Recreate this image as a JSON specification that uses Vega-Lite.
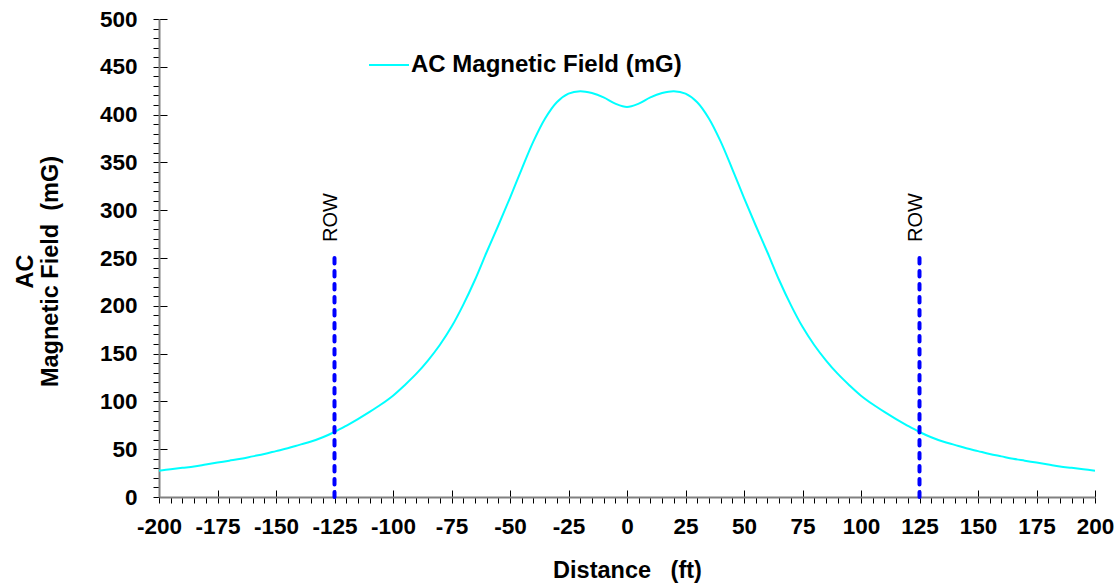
{
  "$schema": "https://vega.github.io/schema/vega-lite/v6.json",
  "width": 936,
  "height": 478,
  "autosize": {"type": "none"},
  "padding": {"left": 159, "top": 19, "right": 22, "bottom": 86},
  "background": "white",
  "config": {"view": {"stroke": null}, "font": "Liberation Sans"},
  "datasets": {
    "field": [
      {"x": -200, "y": 27.5}, {"x": -195, "y": 29}, {"x": -190, "y": 30.5}, {"x": -185, "y": 32},
      {"x": -180, "y": 34}, {"x": -175, "y": 36}, {"x": -170, "y": 38}, {"x": -165, "y": 40},
      {"x": -160, "y": 42.5}, {"x": -155, "y": 45}, {"x": -150, "y": 48}, {"x": -145, "y": 51},
      {"x": -140, "y": 54.5}, {"x": -135, "y": 58}, {"x": -130, "y": 62.5}, {"x": -125, "y": 68},
      {"x": -120, "y": 74.5}, {"x": -115, "y": 81.5}, {"x": -110, "y": 89}, {"x": -105, "y": 97},
      {"x": -100, "y": 106}, {"x": -95, "y": 117}, {"x": -90, "y": 129}, {"x": -85, "y": 143},
      {"x": -80, "y": 159}, {"x": -75, "y": 178}, {"x": -70, "y": 201}, {"x": -65, "y": 227},
      {"x": -60, "y": 256}, {"x": -55, "y": 284}, {"x": -50, "y": 313}, {"x": -45, "y": 343},
      {"x": -40, "y": 372}, {"x": -35, "y": 396}, {"x": -30, "y": 413}, {"x": -25, "y": 422},
      {"x": -20, "y": 424.5}, {"x": -15, "y": 422.5}, {"x": -10, "y": 418}, {"x": -5, "y": 411.5},
      {"x": 0, "y": 408},
      {"x": 5, "y": 411.5}, {"x": 10, "y": 418}, {"x": 15, "y": 422.5}, {"x": 20, "y": 424.5},
      {"x": 25, "y": 422}, {"x": 30, "y": 413}, {"x": 35, "y": 396}, {"x": 40, "y": 372},
      {"x": 45, "y": 343}, {"x": 50, "y": 313}, {"x": 55, "y": 284}, {"x": 60, "y": 256},
      {"x": 65, "y": 227}, {"x": 70, "y": 201}, {"x": 75, "y": 178}, {"x": 80, "y": 159},
      {"x": 85, "y": 143}, {"x": 90, "y": 129}, {"x": 95, "y": 117}, {"x": 100, "y": 106},
      {"x": 105, "y": 97}, {"x": 110, "y": 89}, {"x": 115, "y": 81.5}, {"x": 120, "y": 74.5},
      {"x": 125, "y": 68}, {"x": 130, "y": 62.5}, {"x": 135, "y": 58}, {"x": 140, "y": 54.5},
      {"x": 145, "y": 51}, {"x": 150, "y": 48}, {"x": 155, "y": 45}, {"x": 160, "y": 42.5},
      {"x": 165, "y": 40}, {"x": 170, "y": 38}, {"x": 175, "y": 36}, {"x": 180, "y": 34},
      {"x": 185, "y": 32}, {"x": 190, "y": 30.5}, {"x": 195, "y": 29}, {"x": 200, "y": 27.5}
    ],
    "row": [
      {"x": -125, "y": 250, "label": "ROW"},
      {"x": 125, "y": 250, "label": "ROW"}
    ]
  },
  "layer": [
    {
      "data": {"name": "field"},
      "mark": {"type": "line", "strokeWidth": 2, "interpolate": "catmull-rom"},
      "encoding": {
        "x": {
          "field": "x",
          "type": "quantitative",
          "scale": {"domain": [-200, 200], "nice": false, "zero": false},
          "axis": {
            "title": "Distance\u00a0\u00a0\u00a0(ft)",
            "values": [-200,-195,-190,-185,-180,-175,-170,-165,-160,-155,-150,-145,-140,-135,-130,-125,-120,-115,-110,-105,-100,-95,-90,-85,-80,-75,-70,-65,-60,-55,-50,-45,-40,-35,-30,-25,-20,-15,-10,-5,0,5,10,15,20,25,30,35,40,45,50,55,60,65,70,75,80,85,90,95,100,105,110,115,120,125,130,135,140,145,150,155,160,165,170,175,180,185,190,195,200],
            "tickCount": 1000,
            "labelExpr": "datum.value % 25 === 0 ? '' + datum.value : ''",
            "labelFontSize": 22.5,
            "labelFontWeight": "bold",
            "labelColor": "black",
            "labelPadding": 12,
            "labelFlush": false,
            "labelOverlap": false,
            "tickSize": 6,
            "tickColor": "black",
            "tickWidth": 1,
            "domainColor": "#808080",
            "domainWidth": 2,
            "grid": true,
            "gridDash": [0, 471, 7, 0],
            "gridColor": "black",
            "gridWidth": 1,
            "gridOpacity": {"condition": {"test": "datum.value % 25 === 0", "value": 1}, "value": 0},
            "titleFontSize": 23.5,
            "titleFontWeight": "bold",
            "titleColor": "black",
            "titleY": 80,
            "titleBaseline": "alphabetic"
          }
        },
        "y": {
          "field": "y",
          "type": "quantitative",
          "scale": {"domain": [0, 500], "nice": false},
          "axis": {
            "title": ["AC", "Magnetic Field\u00a0\u00a0(mG)"],
            "values": [0,10,20,30,40,50,60,70,80,90,100,110,120,130,140,150,160,170,180,190,200,210,220,230,240,250,260,270,280,290,300,310,320,330,340,350,360,370,380,390,400,410,420,430,440,450,460,470,480,490,500],
            "tickCount": 1000,
            "labelExpr": "datum.value % 50 === 0 ? '' + datum.value : ''",
            "labelFontSize": 22.5,
            "labelFontWeight": "bold",
            "labelColor": "black",
            "labelPadding": 16,
            "labelFlush": false,
            "labelOverlap": false,
            "tickSize": 6,
            "tickColor": "black",
            "tickWidth": 1,
            "domainColor": "#808080",
            "domainWidth": 2,
            "grid": true,
            "gridDash": [8, 2000],
            "gridColor": "black",
            "gridWidth": 1,
            "gridOpacity": {"condition": {"test": "datum.value % 50 === 0", "value": 1}, "value": 0},
            "titleFontSize": 23.5,
            "titleFontWeight": "bold",
            "titleColor": "black",
            "titleAngle": 270,
            "titleAlign": "center",
            "titleBaseline": "top",
            "titleLineHeight": 25,
            "titleX": -146,
            "titleY": 252
          }
        },
        "color": {
          "datum": "AC Magnetic Field (mG)",
          "type": "nominal",
          "scale": {"range": ["#00FFFF"]},
          "legend": {
            "orient": "none",
            "legendX": 209,
            "legendY": 25,
            "title": null,
            "symbolType": "stroke",
            "symbolSize": 1600,
            "symbolStrokeWidth": 2,
            "labelFontSize": 24,
            "labelFontWeight": "bold",
            "labelColor": "black",
            "labelOffset": 1,
            "labelLimit": 0,
            "padding": 0,
            "labelFont": "Liberation Sans"
          }
        }
      }
    },
    {
      "data": {"name": "row"},
      "mark": {"type": "rule", "color": "#0000FF", "strokeWidth": 4, "strokeDash": [5.5, 7.5], "strokeCap": "round"},
      "encoding": {
        "x": {"field": "x", "type": "quantitative"},
        "y": {"field": "y", "type": "quantitative"},
        "y2": {"datum": 0}
      }
    },
    {
      "data": {"name": "row"},
      "mark": {"type": "text", "angle": 270, "align": "left", "baseline": "middle", "dx": 16, "dy": -3.3, "fontSize": 20, "font": "Liberation Sans", "color": "black"},
      "encoding": {
        "x": {"field": "x", "type": "quantitative"},
        "y": {"field": "y", "type": "quantitative"},
        "text": {"field": "label"}
      }
    }
  ]
}
